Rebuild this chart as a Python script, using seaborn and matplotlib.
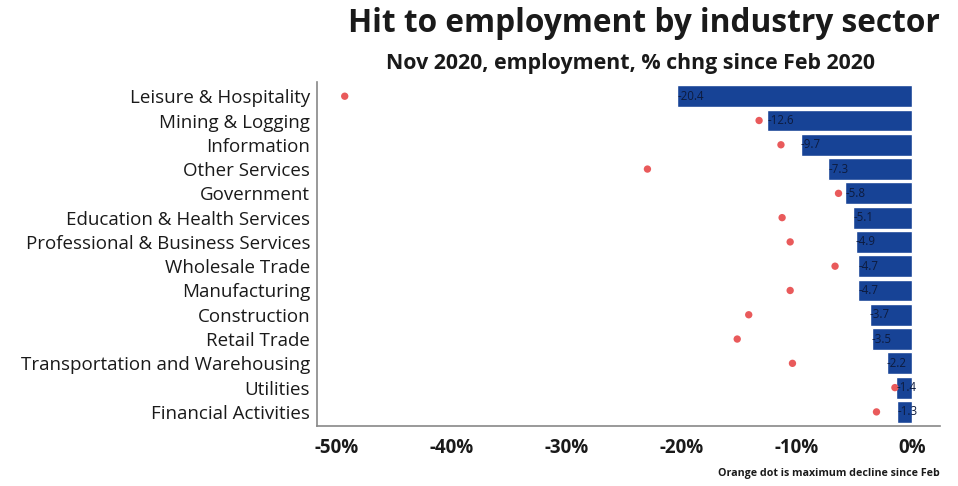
import matplotlib
matplotlib.use("Agg")
import matplotlib.pyplot as plt
import seaborn as sns
import pandas as pd

# ========== data ==========
sectors = ['Leisure & Hospitality', 'Mining & Logging', 'Information', 'Other Services',
           'Government', 'Education & Health Services', 'Professional & Business Services',
           'Wholesale Trade', 'Manufacturing', 'Construction', 'Retail Trade',
           'Transportation and Warehousing', 'Utilities', 'Financial Activities']
nov_change = [-20.4, -12.6, -9.7, -7.3, -5.8, -5.1, -4.9, -4.7, -4.7, -3.7, -3.5, -2.2, -1.4, -1.3]
max_decline = [-49.3, -13.3, -11.4, -23.0, -6.4, -11.3, -10.6, -6.7, -10.6, -14.2, -15.2, -10.4, -1.5, -3.1]
xticks = [-50, -40, -30, -20, -10, 0]

df = pd.DataFrame({'sector': sectors, 'change': nov_change, 'max_decline': max_decline})

bar_color = '#174396'
dot_color = '#e95a5b'
text_color = '#1a1a1a'

sns.set_style('white')
plt.rcParams['font.family'] = ['Open Sans', 'DejaVu Sans']

fig = plt.figure(figsize=(9.58, 4.86), dpi=100)
ax = fig.add_axes([0.331, 0.1235, 0.65, 0.7075])

sns.barplot(data=df, x='change', y='sector', orient='h', color=bar_color,
            saturation=1, width=0.9, ax=ax)
sns.scatterplot(data=df, x='max_decline', y='sector', color=dot_color,
                s=28, edgecolor='none', ax=ax, zorder=3)

for i, v in enumerate(nov_change):
    ax.text(v, i, f'{v}', ha='left', va='center', fontsize=8.3, color='#0d1b3e')

ax.set_xlim(-51.7, 2.4)
ax.set_ylim(13.58, -0.58)
ax.set_xticks(xticks)
ax.set_xticklabels([f'{t}%' for t in xticks], fontsize=13.5, fontweight='bold', color=text_color)
ax.tick_params(axis='y', labelsize=13.5, length=0, pad=5, labelcolor=text_color)
ax.tick_params(axis='x', length=0, pad=9)
ax.set_xlabel('')
ax.set_ylabel('')
for s in ['top', 'right']:
    ax.spines[s].set_visible(False)
for s in ['left', 'bottom']:
    ax.spines[s].set_color('#888888')
    ax.spines[s].set_linewidth(1.2)

fig.text(0.672, 0.952, 'Hit to employment by industry sector', ha='center', va='center',
         fontsize=22.8, fontweight='bold', color=text_color)
fig.text(0.658, 0.87, 'Nov 2020, employment, % chng since Feb 2020', ha='center', va='center',
         fontsize=15.4, fontweight='bold', color=text_color)
fig.text(0.981, 0.025, 'Orange dot is maximum decline since Feb', ha='right', va='center',
         fontsize=7.7, fontweight='bold', color=text_color)

plt.savefig('out.png', dpi=100)
plt.close()
